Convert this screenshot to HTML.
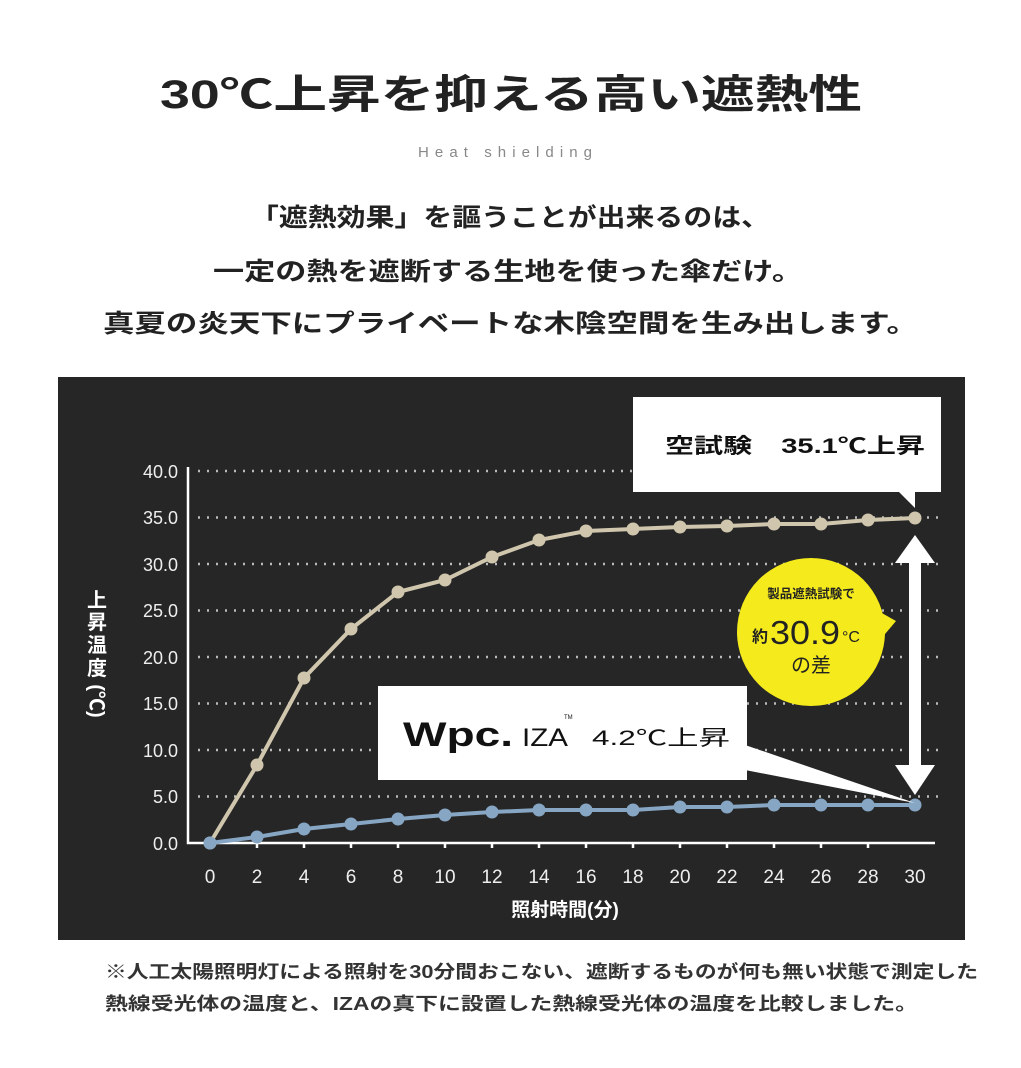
<!DOCTYPE html>
<html><head><meta charset="utf-8"><style>
html,body{margin:0;padding:0;background:#fff;}
svg{display:block;}
text{font-family:"Liberation Sans","Noto Sans CJK JP",sans-serif;}
</style></head><body>
<svg width="1021" height="1068" viewBox="0 0 1021 1068" xmlns="http://www.w3.org/2000/svg">
<rect width="1021" height="1068" fill="#fff"/>
<text x="160" y="108" font-size="40" font-weight="bold" fill="#222" textLength="702" lengthAdjust="spacingAndGlyphs">30℃上昇を抑える高い遮熱性</text>
<text x="418" y="157" font-size="15" fill="#888" textLength="174" lengthAdjust="spacing">Heat shielding</text>
<g font-size="25" font-weight="bold" fill="#222">
<text x="250" y="226" textLength="520" lengthAdjust="spacingAndGlyphs">「遮熱効果」を謳うことが出来るのは、</text>
<text x="213" y="280" textLength="590" lengthAdjust="spacingAndGlyphs">一定の熱を遮断する生地を使った傘だけ。</text>
<text x="103" y="332" textLength="815" lengthAdjust="spacingAndGlyphs">真夏の炎天下にプライベートな木陰空間を生み出します。</text>
</g>
<rect x="58" y="377" width="907" height="563" fill="#262626"/>
<g stroke="#bbb" stroke-width="2.5" stroke-dasharray="2 7">
<line x1="198" y1="471" x2="945" y2="471"/>
<line x1="198" y1="517.5" x2="945" y2="517.5"/>
<line x1="198" y1="564" x2="945" y2="564"/>
<line x1="198" y1="610.5" x2="945" y2="610.5"/>
<line x1="198" y1="657" x2="945" y2="657"/>
<line x1="198" y1="703.5" x2="945" y2="703.5"/>
<line x1="198" y1="750" x2="945" y2="750"/>
<line x1="198" y1="796.5" x2="945" y2="796.5"/>
</g>
<g stroke="#fff" stroke-width="2.5" fill="none">
<polyline points="188,467 188,843 935,843"/>
<line x1="210" y1="843" x2="210" y2="848"/>
<line x1="257" y1="843" x2="257" y2="848"/>
<line x1="304" y1="843" x2="304" y2="848"/>
<line x1="351" y1="843" x2="351" y2="848"/>
<line x1="398" y1="843" x2="398" y2="848"/>
<line x1="445" y1="843" x2="445" y2="848"/>
<line x1="492" y1="843" x2="492" y2="848"/>
<line x1="539" y1="843" x2="539" y2="848"/>
<line x1="586" y1="843" x2="586" y2="848"/>
<line x1="633" y1="843" x2="633" y2="848"/>
<line x1="680" y1="843" x2="680" y2="848"/>
<line x1="727" y1="843" x2="727" y2="848"/>
<line x1="774" y1="843" x2="774" y2="848"/>
<line x1="821" y1="843" x2="821" y2="848"/>
<line x1="868" y1="843" x2="868" y2="848"/>
</g>
<g fill="#eee" font-size="18" text-anchor="end">
<text x="178" y="478">40.0</text><text x="178" y="524">35.0</text><text x="178" y="571">30.0</text>
<text x="178" y="617">25.0</text><text x="178" y="664">20.0</text><text x="178" y="710">15.0</text>
<text x="178" y="757">10.0</text><text x="178" y="803">5.0</text><text x="178" y="850">0.0</text>
</g>
<g fill="#eee" font-size="19" text-anchor="middle">
<text x="210" y="883">0</text><text x="257" y="883">2</text><text x="304" y="883">4</text><text x="351" y="883">6</text>
<text x="398" y="883">8</text><text x="445" y="883">10</text><text x="492" y="883">12</text><text x="539" y="883">14</text>
<text x="586" y="883">16</text><text x="633" y="883">18</text><text x="680" y="883">20</text><text x="727" y="883">22</text>
<text x="774" y="883">24</text><text x="821" y="883">26</text><text x="868" y="883">28</text><text x="915" y="883">30</text>
</g>
<text x="565" y="916" fill="#fff" font-size="19" font-weight="bold" text-anchor="middle">照射時間(分)</text>
<g fill="#fff" font-size="20" font-weight="bold" text-anchor="middle">
<text x="97" y="607">上</text><text x="97" y="629">昇</text><text x="97" y="652">温</text><text x="97" y="675">度</text>
<text x="97" y="708" transform="rotate(90 97 701)">(℃)</text>
</g>
<polyline fill="none" stroke="#cfc6ad" stroke-width="4" points="210,843 257,765 304,678 351,629 398,592 445,580 492,557 539,540 586,531 633,529 680,527 727,526 774,524 821,524 868,520 915,518"/>
<g fill="#cfc6ad">
<circle cx="210" cy="843" r="6.5"/><circle cx="257" cy="765" r="6.5"/><circle cx="304" cy="678" r="6.5"/><circle cx="351" cy="629" r="6.5"/>
<circle cx="398" cy="592" r="6.5"/><circle cx="445" cy="580" r="6.5"/><circle cx="492" cy="557" r="6.5"/><circle cx="539" cy="540" r="6.5"/>
<circle cx="586" cy="531" r="6.5"/><circle cx="633" cy="529" r="6.5"/><circle cx="680" cy="527" r="6.5"/><circle cx="727" cy="526" r="6.5"/>
<circle cx="774" cy="524" r="6.5"/><circle cx="821" cy="524" r="6.5"/><circle cx="868" cy="520" r="6.5"/><circle cx="915" cy="518" r="6.5"/>
</g>
<polyline fill="none" stroke="#86a6c4" stroke-width="4" points="210,843 257,837 304,829 351,824 398,819 445,815 492,812 539,810 586,810 633,810 680,807 727,807 774,805 821,805 868,805 915,805"/>
<g fill="#86a6c4">
<circle cx="210" cy="843" r="6.5"/><circle cx="257" cy="837" r="6.5"/><circle cx="304" cy="829" r="6.5"/><circle cx="351" cy="824" r="6.5"/>
<circle cx="398" cy="819" r="6.5"/><circle cx="445" cy="815" r="6.5"/><circle cx="492" cy="812" r="6.5"/><circle cx="539" cy="810" r="6.5"/>
<circle cx="586" cy="810" r="6.5"/><circle cx="633" cy="810" r="6.5"/><circle cx="680" cy="807" r="6.5"/><circle cx="727" cy="807" r="6.5"/>
<circle cx="774" cy="805" r="6.5"/><circle cx="821" cy="805" r="6.5"/><circle cx="868" cy="805" r="6.5"/><circle cx="915" cy="805" r="6.5"/>
</g>
<g fill="#fff">
<rect x="909" y="560" width="12" height="210"/>
<polygon points="915,535 895,563 935,563"/>
<polygon points="915,795 895,765 935,765"/>
</g>
<rect x="633" y="397" width="308" height="95" fill="#fff"/>
<polygon points="897,490 915,490 915,508" fill="#fff"/>
<text x="665" y="453" font-size="21" font-weight="bold" fill="#111" textLength="260" lengthAdjust="spacingAndGlyphs">空試験　35.1℃上昇</text>
<rect x="378" y="686" width="369" height="94" fill="#fff"/>
<polygon points="745,745 745,770 915,803" fill="#fff"/>
<text x="403" y="746" font-size="34" font-weight="bold" fill="#111" textLength="110" lengthAdjust="spacingAndGlyphs">Wpc.</text>
<text x="522" y="746" font-size="25" fill="#111" textLength="46" lengthAdjust="spacingAndGlyphs">IZA</text>
<text x="564" y="719" font-size="6" fill="#111">TM</text>
<text x="592" y="745" font-size="21" fill="#111" textLength="138" lengthAdjust="spacingAndGlyphs">4.2℃上昇</text>
<circle cx="811" cy="632" r="74" fill="#f5eb1c"/>
<polygon points="880,612 896,621 880,640" fill="#f5eb1c"/>
<text x="811" y="598" font-size="12.5" font-weight="bold" fill="#222" text-anchor="middle">製品遮熱試験で</text>
<text x="752" y="642" font-size="16" font-weight="bold" fill="#222">約</text>
<text x="770" y="644" font-size="33" fill="#222" textLength="70" lengthAdjust="spacingAndGlyphs">30.9</text>
<text x="842" y="642" font-size="16" fill="#222">°C</text>
<text x="811" y="672" font-size="20" fill="#222" text-anchor="middle">の差</text>
<g font-size="18" font-weight="bold" fill="#333">
<text x="105" y="978" textLength="873" lengthAdjust="spacingAndGlyphs">※人工太陽照明灯による照射を30分間おこない、遮断するものが何も無い状態で測定した</text>
<text x="105" y="1010" textLength="813" lengthAdjust="spacingAndGlyphs">熱線受光体の温度と、IZAの真下に設置した熱線受光体の温度を比較しました。</text>
</g>
</svg>
</body></html>
